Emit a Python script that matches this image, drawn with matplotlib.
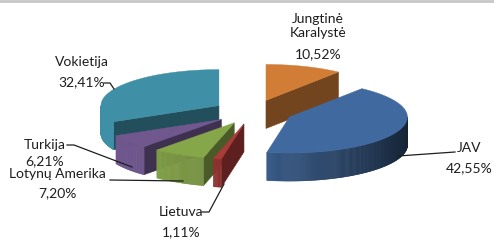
import numpy as np
import matplotlib
matplotlib.use('Agg')
import matplotlib.pyplot as plt
from matplotlib.patches import Polygon
import matplotlib.colors as mcolors

# ---- data ----
names = ['Jungtinė\nKaralystė', 'JAV', 'Lietuva', 'Lotynų Amerika', 'Turkija', 'Vokietija']
values = [10.52, 42.55, 1.11, 7.20, 6.21, 32.41]
pct_labels = ['10,52%', '42,55%', '1,11%', '7,20%', '6,21%', '32,41%']
colors = ['#D17D36', '#406A9F', '#A93B38', '#86A64A', '#70588F', '#3F8FA7']

W, H = 494, 240
fig = plt.figure(figsize=(W / 100, H / 100), dpi=100)
ax = fig.add_axes([0, 0, 1, 1])
ax.set_xlim(0, W)
ax.set_ylim(H, 0)
ax.axis('off')

cx, cy = 253, 112
rx, ry = 118, 36
depth = 28
explode = 40


def shade(c, f):
    r, g, b = mcolors.to_rgb(c)
    return (min(r * f, 1), min(g * f, 1), min(b * f, 1))


def pt(ox, oy, t):
    return ox + rx * np.cos(t), oy - ry * np.sin(t)


total = sum(values)
cum = np.concatenate([[0], np.cumsum(values)])
slices = []
for i, v in enumerate(values):
    a2 = np.deg2rad(90 - 360 * cum[i] / total)
    a1 = np.deg2rad(90 - 360 * cum[i + 1] / total)
    mid = (a1 + a2) / 2
    ox = cx + explode * np.cos(mid)
    oy = cy - explode * (ry / rx) * np.sin(mid)
    slices.append((i, a1, a2, mid, ox, oy))

slices.sort(key=lambda s: -np.sin(s[3]))

for (i, a1, a2, mid, ox, oy) in slices:
    col = colors[i]
    n = max(int(np.degrees(a2 - a1) * 2), 2)
    ts = np.linspace(a1, a2, n + 1)
    # radial faces
    for a, nrm in [(a1, a1 - np.pi / 2), (a2, a2 + np.pi / 2)]:
        if np.sin(nrm) < -1e-3:
            px, py = pt(ox, oy, a)
            poly = [(ox, oy), (px, py), (px, py + depth), (ox, oy + depth)]
            c = shade(col, 0.55)
            ax.add_patch(Polygon(poly, closed=True, fc=c, ec=c, lw=0.4))
    # outer wall
    for j in range(len(ts) - 1):
        tm = (ts[j] + ts[j + 1]) / 2
        if np.sin(tm) < 0:
            f = 0.65 + 0.35 * np.cos(tm - np.deg2rad(200))
            c = shade(col, f)
            p1 = pt(ox, oy, ts[j])
            p2 = pt(ox, oy, ts[j + 1])
            poly = [p1, p2, (p2[0], p2[1] + depth), (p1[0], p1[1] + depth)]
            ax.add_patch(Polygon(poly, closed=True, fc=c, ec=c, lw=0.4))
    # top face
    xs, ys = pt(ox, oy, ts)
    poly = [(ox, oy)] + list(zip(xs, ys))
    ax.add_patch(Polygon(poly, closed=True, fc=col, ec=col, lw=0.3))

# top border
ax.plot([0, W], [0.8, 0.8], color='#c6c6c6', lw=2)

fam = ['Lato', 'DejaVu Sans']
fs = 10
tc = '#1e1e1e'
label_pos = {
    0: (318, 26, 54),
    1: (469, 148, 168),
    2: (181, 212, 232),
    3: (57, 174, 193),
    4: (45, 145, 161),
    5: (82, 62, 82),
}
for i, (x, y1, y2) in label_pos.items():
    ax.text(x, y1, names[i], ha='center', va='center', fontsize=fs,
            family=fam, color=tc, linespacing=1.25)
    ax.text(x, y2, pct_labels[i], ha='center', va='center', fontsize=fs,
            family=fam, color=tc)

lc = '#1e1e1e'
lw = 0.9
# leader lines
ax.plot([104, 110, 114], [83, 83, 89], color=lc, lw=lw)          # Vokietija
ax.plot([67, 74, 132], [145, 145, 167], color=lc, lw=lw)         # Turkija
ax.plot([110, 183], [180, 181], color=lc, lw=lw)                 # Lotynų
ax.plot([202, 209, 224], [212, 212, 184], color=lc, lw=lw)       # Lietuva
ax.plot([398, 455], [156, 152], color=lc, lw=lw)                 # JAV

fig.savefig('out.png', dpi=100, facecolor='white')
